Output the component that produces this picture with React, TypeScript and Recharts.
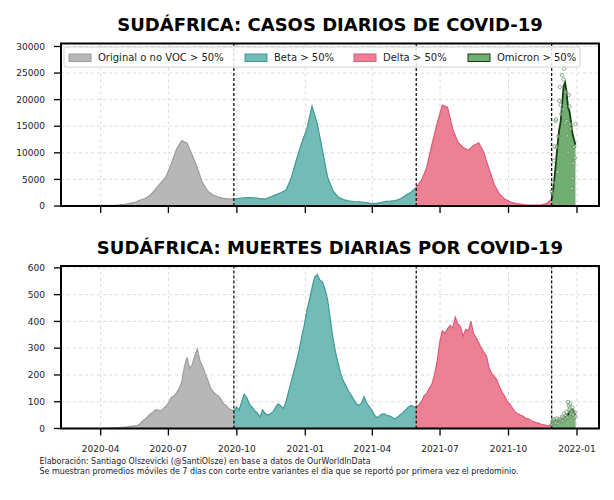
import {
  ComposedChart, Area, Scatter, XAxis, YAxis,
  CartesianGrid, ReferenceLine, ReferenceArea,
} from 'recharts'

const BASE = Date.UTC(2020, 3, 1)
const dayOf = (s: string) => (Date.parse(s + 'T00:00:00Z') - BASE) / 86400000

// first day each variant went above 50%
const switchDates = ['2020-09-27', '2021-05-30', '2021-11-28']
const tickDates = ['2020-04-01', '2020-07-01', '2020-10-01', '2021-01-01', '2021-04-01', '2021-07-01', '2021-10-01', '2022-01-01']
const caseTicks = [0, 5000, 10000, 15000, 20000, 25000, 30000]
const deathTicks = [0, 100, 200, 300, 400, 500, 600]

const variantNames = ['Original o no VOC > 50%', 'Beta > 50%', 'Delta > 50%', 'Omicron > 50%']
const variantKeys = ['orig', 'beta', 'delta', 'omicron']
const variantFill = ['#b7b7b7', '#72bbb7', '#ec8095', '#72ad72']
const variantEdge = ['#9c9c9c', '#3f9994', '#dc5b79', '#123f12']

// daily cases, 7-day average (weekly samples; omicron every 2 days)
const origCasesStart = '2020-03-08'
const origCases = [2, 10, 60, 130, 100, 90, 140, 200, 320, 500, 700, 1130, 1400, 2100, 3200, 4400, 5500, 8000, 10700, 12300, 11800, 9600, 7100, 4300, 2800, 2070, 1700, 1440, 1350, 1320]
const betaCasesStart = '2020-09-27'
const betaCases = [1320, 1450, 1550, 1600, 1550, 1400, 1300, 1700, 2100, 2500, 3000, 5200, 8700, 11800, 14500, 18800, 15500, 10500, 5400, 2900, 1700, 1200, 950, 850, 800, 700, 550, 450, 600, 850, 900, 1000, 1350, 2000, 2600, 3500]
const deltaCasesStart = '2021-05-30'
const deltaCases = [3500, 4800, 7200, 11500, 15500, 19000, 18600, 14500, 12000, 11000, 10500, 11400, 11900, 10000, 6900, 4000, 2200, 1300, 800, 500, 350, 220, 190, 180, 200, 450, 1300]
const omicronCasesStart = '2021-11-28'
const omicronCases = [1300, 3000, 5600, 8600, 11500, 14200, 15800, 19000, 22500, 23200, 21500, 18500, 17800, 15800, 13600, 12500, 11500]
const omicronCasesRaw = [2800, 2300, 4400, 8500, 11200, 16000, 16300, 11100, 6400, 13100, 19800, 22400, 19000, 17300, 24600, 18200, 23800, 25800, 15600, 21400, 16000, 13200, 10100, 20900, 18700, 15400, 14500, 3300, 5200, 8000, 11100, 9100, 15400]

// daily deaths, 7-day average (every 3.5 days; omicron every 2 days)
const origDeathsStart = '2020-03-29'
const origDeaths = [0, 0, 1, 1, 1, 2, 2, 3, 3, 4, 5, 6, 8, 9, 10, 12, 18, 28, 36, 45, 55, 62, 70, 68, 66, 75, 84, 98, 116, 122, 133, 150, 175, 230, 266, 225, 238, 272, 297, 252, 232, 205, 180, 152, 138, 128, 122, 110, 92, 86, 74, 70, 66]
const betaDeathsStart = '2020-09-27'
const betaDeaths = [66, 80, 68, 100, 128, 115, 90, 80, 66, 58, 42, 70, 56, 50, 55, 62, 78, 92, 85, 74, 100, 138, 175, 212, 250, 290, 340, 385, 440, 480, 525, 565, 575, 555, 548, 520, 480, 410, 340, 285, 245, 205, 178, 160, 140, 125, 108, 92, 86, 95, 118, 95, 82, 68, 50, 40, 48, 55, 54, 48, 46, 40, 36, 44, 52, 60, 70, 80, 86, 82, 80]
const deltaDeathsStart = '2021-05-30'
const deltaDeaths = [80, 88, 100, 122, 130, 150, 165, 200, 250, 320, 365, 355, 372, 385, 375, 416, 390, 380, 345, 370, 365, 400, 355, 340, 320, 300, 285, 270, 225, 205, 195, 180, 155, 135, 120, 100, 90, 75, 62, 55, 50, 46, 38, 36, 30, 26, 22, 20, 16, 14, 12, 10, 18]
const omicronDeathsStart = '2021-11-28'
const omicronDeaths = [18, 26, 30, 28, 26, 28, 30, 32, 36, 40, 46, 52, 60, 68, 72, 62, 50]
const omicronDeathsRaw = [15, 28, 22, 35, 30, 24, 20, 38, 30, 18, 33, 26, 36, 30, 44, 28, 40, 56, 36, 48, 62, 42, 99, 86, 70, 92, 56, 66, 78, 52, 40, 60, 45]

interface Pt { d: number; v: number }
type Row = { d: number; [k: string]: number }

const series = (start: string, step: number, values: number[]): Pt[] =>
  values.map((v, i) => ({ d: dayOf(start) + i * step, v }))

function mergeSeries(parts: Record<string, Pt[]>): Row[] {
  const map = new Map<number, Row>()
  for (const [key, pts] of Object.entries(parts)) {
    for (const p of pts) {
      const row = map.get(p.d) ?? { d: p.d }
      row[key] = p.v
      map.set(p.d, row)
    }
  }
  return [...map.values()].sort((a, b) => a.d - b.d)
}

const caseRows = mergeSeries({
  orig: series(origCasesStart, 7, origCases),
  beta: series(betaCasesStart, 7, betaCases),
  delta: series(deltaCasesStart, 7, deltaCases),
  omicron: series(omicronCasesStart, 2, omicronCases),
})
const deathRows = mergeSeries({
  orig: series(origDeathsStart, 3.5, origDeaths),
  beta: series(betaDeathsStart, 3.5, betaDeaths),
  delta: series(deltaDeathsStart, 3.5, deltaDeaths),
  omicron: series(omicronDeathsStart, 2, omicronDeaths),
  omicronRaw: series(omicronDeathsStart, 1, omicronDeathsRaw),
})

const X_MIN = -53.3
const X_MAX = 669.6
const FONT = 'DejaVu Sans'

const monthLabel = (d: number) => {
  const dt = new Date(BASE + Math.round(d) * 86400000)
  return `${dt.getUTCFullYear()}-${String(dt.getUTCMonth() + 1).padStart(2, '0')}`
}

const Dot = (p: { cx?: number; cy?: number }) => (
  <circle cx={p.cx} cy={p.cy} r={1.7} fill="rgba(255,255,255,0.35)" stroke="#5d8a5d" strokeWidth={0.7} />
)

interface PanelProps {
  rows: Row[]
  yMax: number
  yTicks: number[]
  raw: Pt[]
  showLabels: boolean
  top: number
  height: number
  margin: { top: number; right: number; bottom: number; left: number }
  xAxisHeight: number
  rawArea?: boolean
}

function Panel({ rows, yMax, yTicks, raw, showLabels, top, height, margin, xAxisHeight, rawArea }: PanelProps) {
  return (
    <div style={{ position: 'absolute', left: 0, top }}>
      <ComposedChart width={614} height={height} data={rows} margin={margin}>
        <CartesianGrid strokeDasharray="3 3" stroke="#d2d2d2" strokeWidth={0.8} />
        <XAxis
          dataKey="d"
          type="number"
          domain={[X_MIN, X_MAX]}
          ticks={tickDates.map(dayOf)}
          tickFormatter={showLabels ? monthLabel : () => ''}
          height={xAxisHeight}
          axisLine={false}
          tickSize={7}
          tickMargin={10}
          tickLine={{ stroke: '#000', strokeWidth: 1.3 }}
          tick={{ fontSize: 9, fill: '#222', fontFamily: FONT }}
          allowDataOverflow
        />
        <YAxis
          type="number"
          domain={[0, yMax]}
          ticks={yTicks}
          width={50}
          axisLine={false}
          tickSize={7}
          tickMargin={9}
          tickLine={{ stroke: '#000', strokeWidth: 1.3 }}
          tick={{ fontSize: 9, fill: '#222', fontFamily: FONT }}
          allowDataOverflow
        />
        {rawArea && (
          <Area
            type="linear"
            dataKey="omicronRaw"
            stroke="none"
            fill="#a9d3a9"
            fillOpacity={0.8}
            connectNulls
            isAnimationActive={false}
          />
        )}
        {variantKeys.map((k, i) => (
          <Area
            key={k}
            type="linear"
            dataKey={k}
            stroke={variantEdge[i]}
            strokeWidth={k === 'omicron' ? 1.8 : 1.2}
            fill={variantFill[i]}
            fillOpacity={k === 'omicron' && rawArea ? 0.85 : 1}
            connectNulls
            dot={false}
            isAnimationActive={false}
          />
        ))}
        <Scatter data={raw} dataKey="v" shape={Dot} isAnimationActive={false} />
        {switchDates.map(s => (
          <ReferenceLine key={s} x={dayOf(s)} stroke="#000" strokeWidth={1.2} strokeDasharray="3 2" />
        ))}
        <ReferenceArea x1={X_MIN} x2={X_MAX} y1={0} y2={yMax} fill="none" stroke="#000" strokeWidth={2} ifOverflow="visible" />
      </ComposedChart>
    </div>
  )
}

const legendPatchX = [69, 245, 354, 468]
const legendTextX = [98, 274, 383, 497]

export default function App() {
  return (
    <div style={{ position: 'absolute', left: 0, top: 0, width: 614, height: 500, background: '#fff', fontFamily: FONT }}>
      <Panel
        rows={caseRows}
        yMax={30560}
        yTicks={caseTicks}
        raw={series(omicronCasesStart, 1, omicronCasesRaw)}
        showLabels={false}
        top={0}
        height={230}
        margin={{ top: 43.5, right: 15, bottom: 4, left: 11 }}
        xAxisHeight={20}
      />
      <Panel
        rows={deathRows}
        yMax={607}
        yTicks={deathTicks}
        raw={series(omicronDeathsStart, 1, omicronDeathsRaw)}
        showLabels
        top={230}
        height={230}
        margin={{ top: 36, right: 15, bottom: 1.5, left: 11 }}
        xAxisHeight={30}
        rawArea
      />
      <svg width={614} height={500} style={{ position: 'absolute', left: 0, top: 0, pointerEvents: 'none' }}>
        <text x={330} y={30.7} textAnchor="middle" fontSize={18} fontWeight="bold" fontFamily={FONT} fill="#000">
          SUDÁFRICA: CASOS DIARIOS DE COVID-19
        </text>
        <text x={330} y={253.5} textAnchor="middle" fontSize={18} fontWeight="bold" fontFamily={FONT} fill="#000">
          SUDÁFRICA: MUERTES DIARIAS POR COVID-19
        </text>
        <rect x={64} y={47} width={516} height={20} rx={2} fill="rgba(255,255,255,0.85)" stroke="#cfcfcf" strokeWidth={1} />
        {variantNames.map((n, i) => (
          <g key={n}>
            <rect x={legendPatchX[i]} y={54} width={22} height={7.5} fill={variantFill[i]} stroke={variantEdge[i]} strokeWidth={1} />
            <text x={legendTextX[i]} y={60.8} fontSize={10} fontFamily={FONT} fill="#222">{n}</text>
          </g>
        ))}
        <text x={39.5} y={463.8} fontSize={8.5} fontFamily={FONT} fill="#222" textLength={331} lengthAdjust="spacingAndGlyphs">
          Elaboración: Santiago Olszevicki (@SantiOlsze) en base a datos de OurWorldInData
        </text>
        <text x={39.5} y={473.5} fontSize={8.5} fontFamily={FONT} fill="#222" textLength={479} lengthAdjust="spacingAndGlyphs">
          Se muestran promedios móviles de 7 días con corte entre variantes el día que se reportó por primera vez el predominio.
        </text>
      </svg>
    </div>
  )
}
